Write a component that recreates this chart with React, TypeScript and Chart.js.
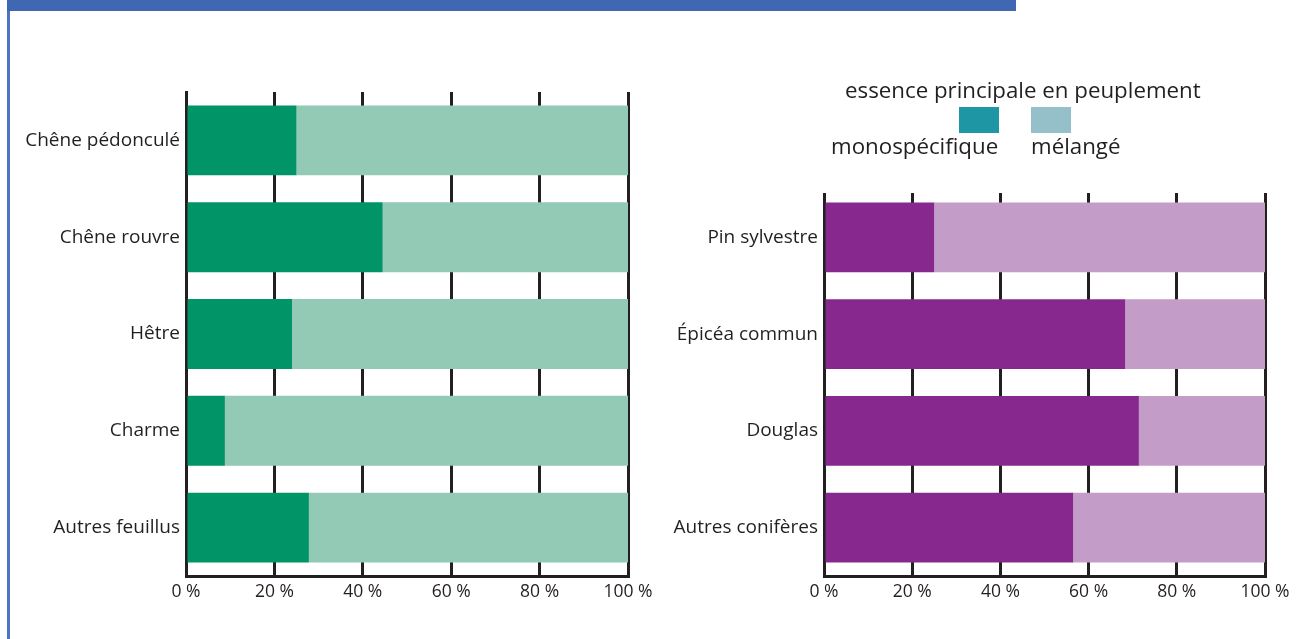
import React, { useEffect, useRef } from "react";
import { Chart, registerables } from "chart.js";

Chart.register(...registerables);

const leftCategories = ["Chêne pédonculé", "Chêne rouvre", "Hêtre", "Charme", "Autres feuillus"];
const leftMono = [25, 44.5, 24, 8.8, 27.8];
const leftMixed = [75, 55.5, 76, 91.2, 72.2];

const rightCategories = ["Pin sylvestre", "Épicéa commun", "Douglas", "Autres conifères"];
const rightMono = [25, 68.3, 71.4, 56.5];
const rightMixed = [75, 31.7, 28.6, 43.5];

const legendTitle = "essence principale en peuplement";
const legendLabels = ["monospécifique", "mélangé"];
const tickSuffix = " %";

const INK = "#231f20";
const FONT = "'Open Sans', 'Noto Sans', sans-serif";

type Cfg = {
  categories: string[];
  mono: number[];
  mixed: number[];
  monoColor: string;
  mixedColor: string;
  axisWidth: number;
  padTop: number;
  padRight: number;
  topTrim: number;
};

const trimPlugin = {
  id: "topTrim",
  beforeDatasetsDraw(chart: any, _args: any, opts: any) {
    const t = opts && opts.amount ? opts.amount : 0;
    if (!t) return;
    const { ctx, chartArea } = chart;
    ctx.save();
    ctx.fillStyle = "#ffffff";
    ctx.fillRect(chartArea.left - 3, chartArea.top - 3, chartArea.right - chartArea.left + 6, t + 3);
    ctx.restore();
  },
};

function makeConfig(c: Cfg): any {
  return {
    type: "bar",
    data: {
      labels: c.categories,
      datasets: [
        { label: legendLabels[0], data: c.mono, backgroundColor: c.monoColor, borderWidth: 0, barPercentage: 0.722, categoryPercentage: 1 },
        { label: legendLabels[1], data: c.mixed, backgroundColor: c.mixedColor, borderWidth: 0, barPercentage: 0.722, categoryPercentage: 1 },
      ],
    },
    plugins: [trimPlugin],
    options: {
      indexAxis: "y",
      animation: false,
      responsive: false,
      maintainAspectRatio: false,
      layout: { padding: { top: c.padTop, right: c.padRight, left: 0, bottom: 0 } },
      plugins: {
        legend: { display: false },
        tooltip: { enabled: false },
        title: { display: false },
        topTrim: { amount: c.topTrim },
      },
      scales: {
        x: {
          stacked: true,
          min: 0,
          max: 100,
          ticks: {
            stepSize: 20,
            color: INK,
            padding: 6,
            font: { family: FONT, size: 17.5 },
            callback: (v: number) => v + tickSuffix,
            maxRotation: 0,
          },
          grid: { color: INK, lineWidth: 3, drawTicks: false, drawOnChartArea: true },
          border: { display: true, color: INK, width: 3 },
          afterFit: (s: any) => {
            s.height = 63;
          },
        },
        y: {
          stacked: true,
          ticks: { color: INK, padding: 6, font: { family: FONT, size: 19 } },
          grid: { display: false, drawTicks: false },
          border: { display: true, color: INK, width: 3 },
          afterFit: (s: any) => {
            s.width = c.axisWidth;
          },
        },
      },
    },
  };
}

function BarChart(props: Cfg & { left: number; width: number }) {
  const ref = useRef<HTMLCanvasElement | null>(null);
  useEffect(() => {
    if (!ref.current) return;
    const chart = new Chart(ref.current, makeConfig(props));
    return () => chart.destroy();
  }, []);
  return (
    <canvas
      ref={ref}
      width={props.width}
      height={639}
      style={{ position: "absolute", left: props.left, top: 0, width: props.width, height: 639, display: "block" }}
    />
  );
}

export default function App() {
  const textStyle: React.CSSProperties = {
    position: "absolute",
    fontFamily: FONT,
    color: INK,
    whiteSpace: "nowrap",
    lineHeight: "24px",
  };
  return (
    <div style={{ position: "absolute", left: 0, top: 0, width: 1305, height: 639, overflow: "hidden", background: "#fff" }}>
      <div style={{ position: "absolute", left: 7, top: 0, width: 1009, height: 11, background: "#4068b2" }} />
      <div style={{ position: "absolute", left: 7, top: 11, width: 3, height: 628, background: "#4b74c2" }} />
      <BarChart
        left={0}
        width={660}
        categories={leftCategories}
        mono={leftMono}
        mixed={leftMixed}
        monoColor="#009466"
        mixedColor="#93cab5"
        axisWidth={186}
        padTop={92}
        padRight={32}
        topTrim={0}
      />
      <BarChart
        left={660}
        width={645}
        categories={rightCategories}
        mono={rightMono}
        mixed={rightMixed}
        monoColor="#87288e"
        mixedColor="#c39dc8"
        axisWidth={164}
        padTop={189}
        padRight={40}
        topTrim={4}
      />
      <div style={{ ...textStyle, left: 845, top: 78, fontSize: 22.3 }}>{legendTitle}</div>
      <div style={{ position: "absolute", left: 959, top: 107, width: 40, height: 26, background: "#1f96a3" }} />
      <div style={{ position: "absolute", left: 1031, top: 107, width: 40, height: 26, background: "#95bfc9" }} />
      <div style={{ ...textStyle, left: 831, top: 134, fontSize: 22.3 }}>{legendLabels[0]}</div>
      <div style={{ ...textStyle, left: 1031, top: 134, fontSize: 22.3 }}>{legendLabels[1]}</div>
    </div>
  );
}
